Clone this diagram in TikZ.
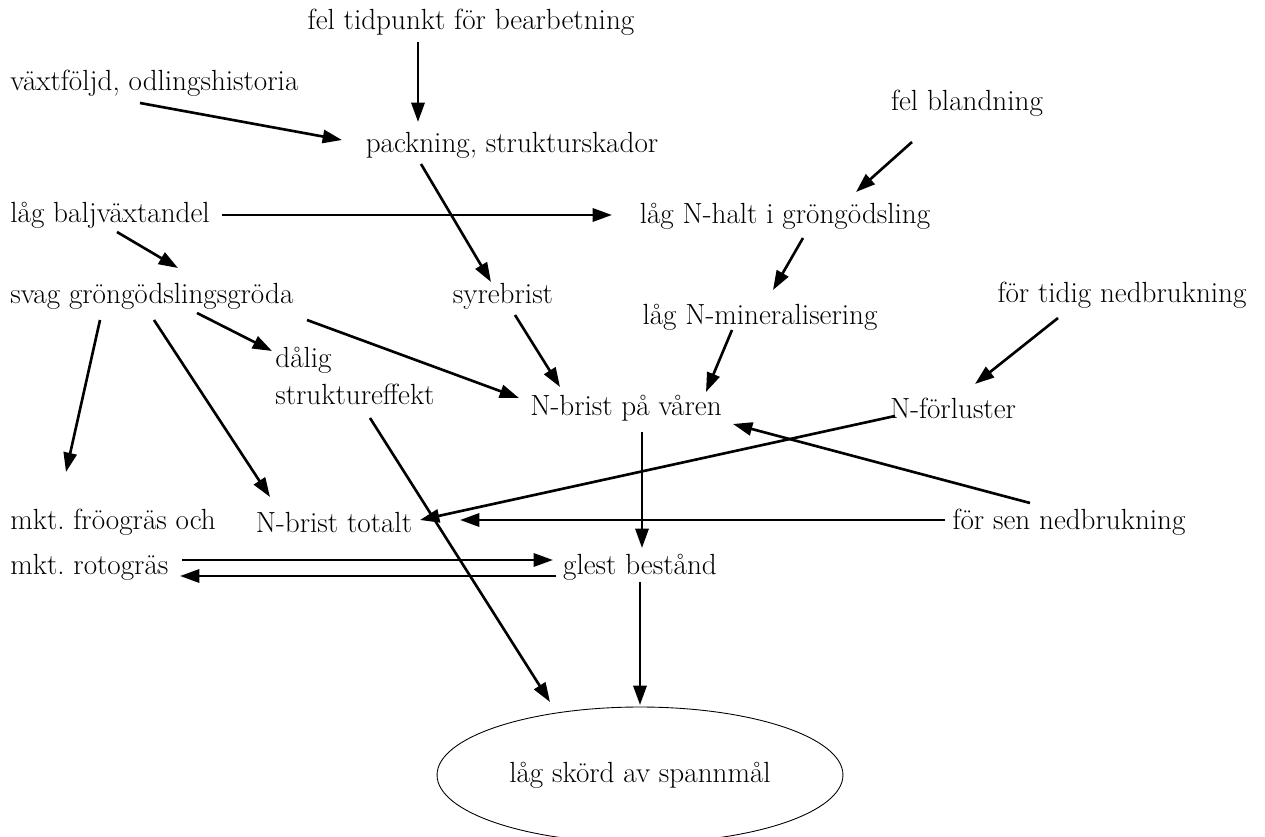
\documentclass[tikz,border=0pt]{standalone}
\usepackage{tikz}
\usetikzlibrary{shapes.geometric, arrows.meta}
\frenchspacing

\tikzset{
  lbl/.style={inner sep=0pt, font=\fontsize{16.6}{20}\selectfont},
  pil/.style={line width=1.5pt, -{Triangle[length=11pt, width=7.5pt]}}
}

\begin{document}
\begin{tikzpicture}[x=0.02cm, y=-0.02cm]
\useasboundingbox (0,0) rectangle (1265,837);

% texter
\node[lbl] (tid) at (471,22) {fel tidpunkt för bearbetning};
\node[lbl, anchor=west] (vaxt) at (10,83) {växtföljd, odlingshistoria};
\node[lbl] (pack) at (512,145) {packning, strukturskador};
\node[lbl] (bland) at (967,103) {fel blandning};
\node[lbl, anchor=west] (balj) at (10,215) {låg baljväxtandel};
\node[lbl] (halt) at (785,216) {låg N-halt i gröngödsling};
\node[lbl, anchor=west] (svag) at (10,296) {svag gröngödslingsgröda};
\node[lbl] (syre) at (503,296) {syrebrist};
\node[lbl] (mineral) at (760,317) {låg N-mineralisering};
\node[lbl] (tidig) at (1122,295) {för tidig nedbrukning};
\node[lbl, anchor=west, align=left, font=\fontsize{16.6}{21.5}\selectfont] (dalig) at (275,376) {dålig\\struktureffekt};
\node[lbl] (varen) at (626,408) {N-brist på våren};
\node[lbl] (forl) at (953,408) {N-förluster};
\node[lbl, anchor=west] (froo) at (10,522) {mkt. fröogräs och};
\node[lbl, anchor=west] (roto) at (10,567) {mkt. rotogräs};
\node[lbl] (totalt) at (334,522) {N-brist totalt};
\node[lbl] (sen) at (1069,522) {för sen nedbrukning};
\node[lbl] (glest) at (640,567) {glest bestånd};
\node[lbl, draw, line width=0.5pt, ellipse, minimum width=8.12cm, minimum height=2.72cm] (skord) at (640,775) {låg skörd av spannmål};

% pilar
\draw[pil] ([shift={(-53,20)}]tid.center) -- ([shift={(-94,-23)}]pack.center);
\draw[pil] ([shift={(130,20)}]vaxt.west) -- ([shift={(-170,-5)}]pack.center);
\draw[pil] ([shift={(-91,19)}]pack.center) -- ([shift={(-12,-14)}]syre.center);
\draw[pil] ([shift={(212,0)}]balj.west) -- ([shift={(-173,-1)}]halt.center);
\draw[pil] ([shift={(-55,39)}]bland.center) -- ([shift={(71,-24)}]halt.center);
\draw[pil] ([shift={(107,17)}]balj.west) -- ([shift={(168,-28)}]svag.west);
\draw[pil] ([shift={(18,22)}]halt.center) -- ([shift={(13,-27)}]mineral.center);
\draw[pil] ([shift={(90,24)}]svag.west) -- ([shift={(56,-50)}]froo.west);
\draw[pil] ([shift={(144,24)}]svag.west) -- ([shift={(-64,-25)}]totalt.center);
\draw[pil] ([shift={(187,17)}]svag.west) -- ([shift={(-3,-25)}]dalig.west);
\draw[pil] ([shift={(297,24)}]svag.west) -- ([shift={(-107,-10)}]varen.center);
\draw[pil] ([shift={(12,19)}]syre.center) -- ([shift={(-66,-21)}]varen.center);
\draw[pil] ([shift={(-28,13)}]mineral.center) -- ([shift={(80,-16)}]varen.center);
\draw[pil] ([shift={(-64,23)}]tidig.center) -- ([shift={(22,-24)}]forl.center);
\draw[pil] ([shift={(-58,8)}]forl.center) -- ([shift={(86,-2)}]totalt.center);
\draw[pil] ([shift={(-39,-19)}]sen.center) -- ([shift={(107,16)}]varen.center);
\draw[pil] ([shift={(-124,-2)}]sen.center) -- ([shift={(126,-2)}]totalt.center);
\draw[pil] ([shift={(16,24)}]varen.center) -- ([shift={(2,-19)}]glest.center);
\draw[pil] ([shift={(95,42)}]dalig.west) -- ([shift={(-90,-73)}]skord.center);
\draw[pil] ([shift={(172,-7)}]roto.west) -- ([shift={(-87,-7)}]glest.center);
\draw[pil] ([shift={(-84,9)}]glest.center) -- ([shift={(170,9)}]roto.west);
\draw[pil] ([shift={(0,15)}]glest.center) -- ([shift={(0,-70)}]skord.center);
\end{tikzpicture}
\end{document}
